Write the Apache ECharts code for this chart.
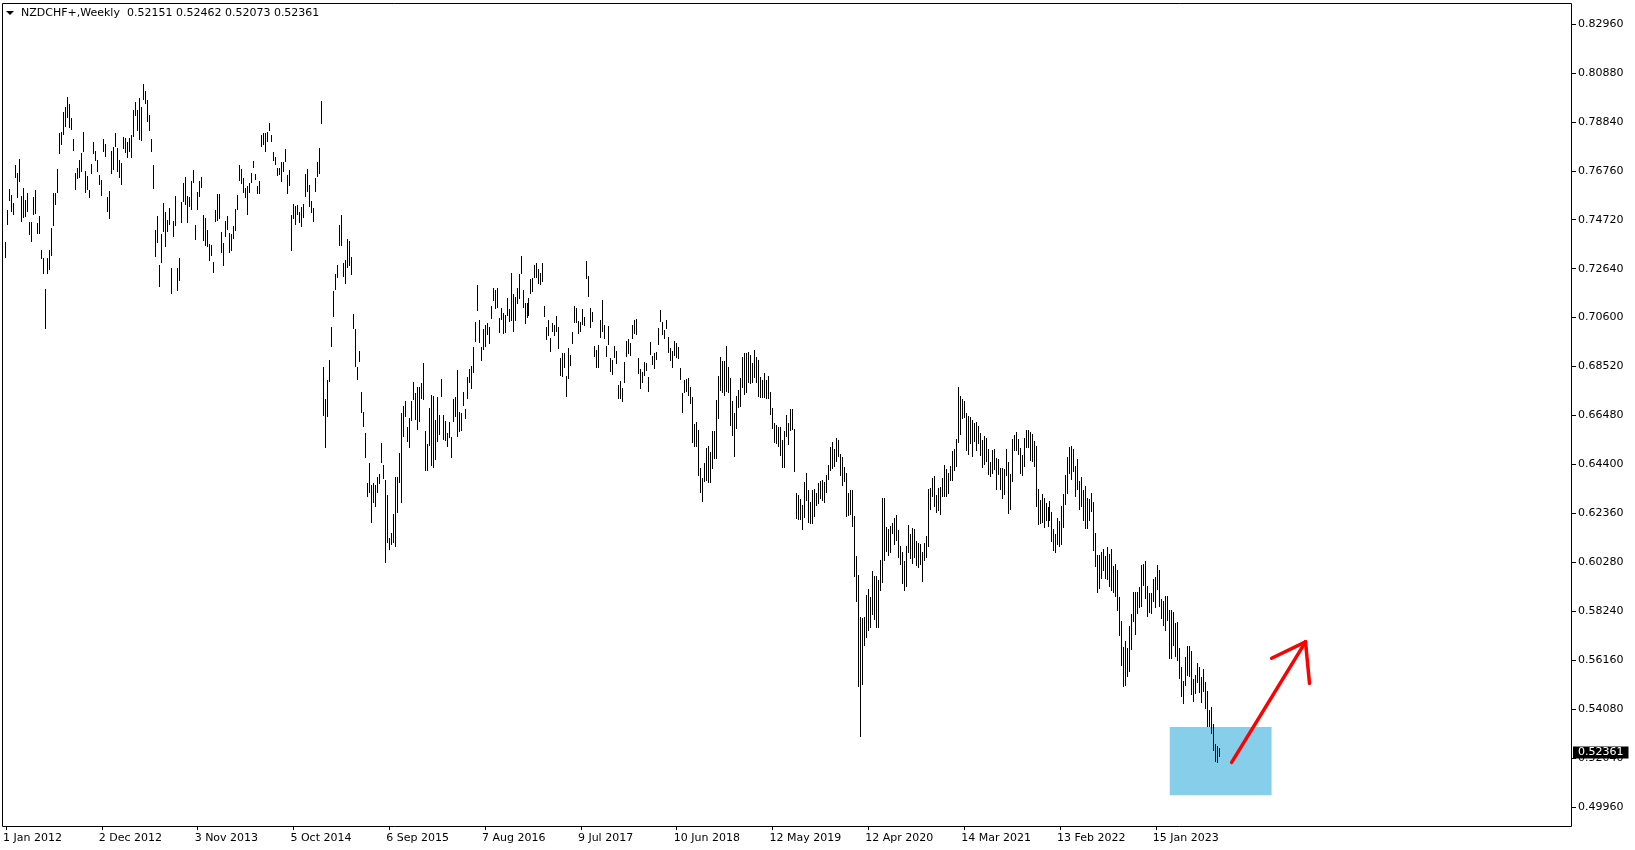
<!DOCTYPE html>
<html><head><meta charset="utf-8">
<script src="https://cdn.jsdelivr.net/npm/echarts@6/dist/echarts.min.js"></script>
<style>html,body{margin:0;padding:0;background:#fff}#c{width:1635px;height:850px}</style>
</head><body><div id="c"></div>
<script>
const SYMBOL = 'NZDCHF+';
const TIMEFRAME = 'Weekly';
const LAST_OPEN = 0.52151;
const LAST_CLOSE = 0.52361;

const X_TICK_LABELS = ['1 Jan 2012','2 Dec 2012','3 Nov 2013','5 Oct 2014','6 Sep 2015','7 Aug 2016','9 Jul 2017','10 Jun 2018','12 May 2019','12 Apr 2020','14 Mar 2021','13 Feb 2022','15 Jan 2023'];
const BARS_PER_X_LABEL = 48;
const Y_TICK_LABELS = ['0.82960','0.80880','0.78840','0.76760','0.74720','0.72640','0.70600','0.68520','0.66480','0.64400','0.62360','0.60280','0.58240','0.56160','0.54080','0.52040','0.49960'];

// weekly highs, one per bar from 1 Jan 2012
const HIGHS = [
0.7379,0.7512,0.7600,0.7575,0.7541,0.7702,0.7667,0.7727,0.7572,0.7603,
0.7554,0.7582,0.7463,0.7463,0.7568,0.7596,0.7456,0.7488,0.7343,0.7311,
0.7179,0.7311,0.7343,0.7435,0.7582,0.7582,0.7685,0.7835,0.7842,0.7926,
0.7948,0.7987,0.7957,0.7898,0.7811,0.7667,0.7690,0.7723,0.7751,0.7839,
0.7676,0.7657,0.7596,0.7704,0.7800,0.7761,0.7723,0.7660,0.7638,0.7811,
0.7789,0.7568,0.7592,0.7761,0.7779,0.7835,0.7775,0.7723,0.7709,0.7821,
0.7814,0.7800,0.7817,0.7828,0.7933,0.7966,0.7933,0.7983,0.7948,0.8042,
0.8014,0.7976,0.7912,0.7811,0.7702,0.7428,0.7488,0.7280,0.7409,0.7540,
0.7502,0.7470,0.7522,0.7269,0.7466,0.7572,0.7269,0.7311,0.7547,0.7624,
0.7652,0.7572,0.7568,0.7634,0.7681,0.7449,0.7589,0.7634,0.7652,0.7491,
0.7477,0.7428,0.7369,0.7365,0.7294,0.7512,0.7580,0.7580,0.7421,0.7372,
0.7467,0.7487,0.7417,0.7411,0.7445,0.7515,0.7575,0.7702,0.7684,0.7646,
0.7603,0.7613,0.7625,0.7667,0.7720,0.7664,0.7613,0.7636,0.7828,0.7838,
0.7835,0.7842,0.7880,0.7828,0.7758,0.7737,0.7688,0.7688,0.7716,0.7716,
0.7768,0.7660,0.7681,0.7491,0.7538,0.7529,0.7533,0.7505,0.7523,0.7538,
0.7664,0.7684,0.7618,0.7552,0.7519,0.7646,0.7716,0.7772,0.7972,0.6852,
0.6714,0.6796,0.6880,0.7020,0.7172,0.7242,0.7280,0.7449,0.7491,0.7287,
0.7301,0.7389,0.7383,0.7313,0.7074,0.7009,0.6852,0.6919,0.6746,0.6662,
0.6574,0.6363,0.6444,0.6353,0.6363,0.6353,0.6385,0.6399,0.6531,0.6437,
0.6374,0.6311,0.6128,0.6149,0.6231,0.6385,0.6388,0.6489,0.6658,0.6684,
0.6705,0.6599,0.6634,0.6705,0.6786,0.6740,0.6764,0.6764,0.6782,0.6866,
0.6581,0.6525,0.6679,0.6733,0.6730,0.6627,0.6726,0.6648,0.6800,0.6648,
0.6623,0.6571,0.6620,0.6557,0.6716,0.6726,0.6838,0.6662,0.6655,0.6747,
0.6674,0.6810,0.6842,0.6856,0.6936,0.7039,0.7194,0.7049,0.6936,0.7011,
0.7028,0.7035,0.7017,0.7109,0.7185,0.7175,0.7182,0.7059,0.7101,0.7077,
0.7070,0.7143,0.7095,0.7246,0.7157,0.7147,0.7185,0.7241,0.7319,0.7175,
0.7119,0.7119,0.7143,0.7222,0.7224,0.7281,0.7288,0.7264,0.7246,0.7288,
0.7109,0.7021,0.7049,0.6972,0.7035,0.7028,0.7067,0.7017,0.6890,0.6908,
0.6908,0.6814,0.6929,0.6901,0.6997,0.7109,0.7098,0.7045,0.7039,0.7095,
0.7063,0.7298,0.7232,0.7101,0.7081,0.6941,0.6922,0.6943,0.7049,0.7133,
0.7028,0.6939,0.7023,0.6887,0.6880,0.6939,0.6919,0.6775,0.6793,0.6761,
0.6873,0.6962,0.6967,0.6953,0.7028,0.7049,0.7053,0.6887,0.6841,0.6831,
0.6873,0.6869,0.6810,0.6957,0.6897,0.6911,0.6915,0.7014,0.7091,0.7042,
0.7007,0.7049,0.6976,0.6929,0.6919,0.6962,0.6953,0.6936,0.6845,0.6740,
0.6796,0.6799,0.6803,0.6768,0.6723,0.6610,0.6620,0.6585,0.6423,0.6381,
0.6447,0.6508,0.6518,0.6494,0.6582,0.6582,0.6711,0.6813,0.6891,0.6877,
0.6877,0.6939,0.6852,0.6803,0.6709,0.6655,0.6728,0.6754,0.6803,0.6894,
0.6908,0.6911,0.6915,0.6901,0.6866,0.6922,0.6891,0.6880,0.6810,0.6796,
0.6824,0.6796,0.6813,0.6747,0.6676,0.6616,0.6606,0.6599,0.6596,0.6543,
0.6582,0.6648,0.6616,0.6672,0.6672,0.6588,0.6321,0.6311,0.6293,0.6269,
0.6365,0.6403,0.6330,0.6283,0.6330,0.6335,0.6318,0.6363,0.6372,0.6374,
0.6367,0.6396,0.6438,0.6515,0.6536,0.6504,0.6550,0.6543,0.6484,0.6470,
0.6428,0.6405,0.6321,0.6330,0.6330,0.6223,0.6054,0.5974,0.5796,0.5791,
0.5796,0.5890,0.5914,0.5883,0.5992,0.5970,0.5970,0.5953,0.6037,0.6297,
0.6297,0.6175,0.6167,0.6181,0.6195,0.6213,0.6227,0.6164,0.6096,0.6072,
0.6034,0.6096,0.6185,0.6147,0.6171,0.6167,0.6119,0.6110,0.6105,0.6072,
0.6110,0.6138,0.6335,0.6339,0.6382,0.6389,0.6311,0.6339,0.6344,0.6382,
0.6438,0.6419,0.6403,0.6433,0.6498,0.6504,0.6546,0.6765,0.6729,0.6715,
0.6705,0.6658,0.6644,0.6639,0.6625,0.6616,0.6620,0.6602,0.6574,0.6543,
0.6560,0.6550,0.6504,0.6452,0.6501,0.6504,0.6466,0.6462,0.6424,0.6424,
0.6419,0.6504,0.6452,0.6400,0.6546,0.6564,0.6578,0.6546,0.6508,0.6480,
0.6550,0.6585,0.6585,0.6578,0.6568,0.6540,0.6518,0.6335,0.6290,0.6315,
0.6297,0.6279,0.6259,0.6287,0.6241,0.6166,0.6147,0.6213,0.6203,0.6265,
0.6315,0.6395,0.6470,0.6515,0.6518,0.6504,0.6433,0.6461,0.6371,0.6385,
0.6332,0.6349,0.6297,0.6293,0.6318,0.6283,0.6149,0.6058,0.6058,0.6072,
0.6082,0.6054,0.6090,0.6062,0.6082,0.6012,0.6020,0.5995,0.5882,0.5781,
0.5669,0.5697,0.5665,0.5759,0.5809,0.5904,0.5904,0.5904,0.5925,0.6016,
0.6020,0.6034,0.5927,0.5899,0.5899,0.5956,0.5967,0.6016,0.5995,0.5871,
0.5866,0.5885,0.5885,0.5826,0.5826,0.5819,0.5773,0.5777,0.5665,0.5585,
0.5528,0.5630,0.5675,0.5675,0.5655,0.5534,0.5552,0.5604,0.5585,0.5545,
0.5576,0.5524,0.5486,0.5405,0.5419,0.5346,0.5261,0.5253,0.52462
];
// weekly lows
const LOWS = [
0.7311,0.7449,0.7550,0.7505,0.7491,0.7645,0.7564,0.7631,0.7463,0.7480,
0.7484,0.7505,0.7407,0.7379,0.7491,0.7494,0.7409,0.7409,0.7305,0.7244,
0.7010,0.7244,0.7260,0.7319,0.7446,0.7533,0.7582,0.7748,0.7786,0.7828,
0.7863,0.7901,0.7859,0.7849,0.7761,0.7596,0.7643,0.7648,0.7674,0.7755,
0.7582,0.7596,0.7564,0.7662,0.7747,0.7719,0.7671,0.7617,0.7572,0.7755,
0.7737,0.7505,0.7474,0.7662,0.7681,0.7779,0.7674,0.7648,0.7617,0.7769,
0.7751,0.7730,0.7755,0.7730,0.7821,0.7910,0.7845,0.7807,0.7803,0.7976,
0.7957,0.7884,0.7845,0.7758,0.7600,0.7315,0.7371,0.7189,0.7287,0.7418,
0.7357,0.7421,0.7449,0.7156,0.7400,0.7446,0.7171,0.7213,0.7456,0.7544,
0.7533,0.7456,0.7526,0.7512,0.7624,0.7386,0.7512,0.7568,0.7606,0.7380,
0.7362,0.7358,0.7299,0.7318,0.7245,0.7463,0.7467,0.7473,0.7332,0.7276,
0.7400,0.7428,0.7332,0.7341,0.7389,0.7425,0.7512,0.7636,0.7622,0.7582,
0.7561,0.7491,0.7585,0.7627,0.7688,0.7639,0.7580,0.7580,0.7779,0.7786,
0.7758,0.7800,0.7847,0.7800,0.7720,0.7702,0.7656,0.7660,0.7632,0.7674,
0.7716,0.7580,0.7613,0.7341,0.7473,0.7449,0.7491,0.7459,0.7439,0.7477,
0.7566,0.7589,0.7526,0.7501,0.7463,0.7589,0.7650,0.7664,0.7873,0.6644,
0.6508,0.6641,0.6789,0.6936,0.7063,0.7175,0.7224,0.7360,0.7360,0.7231,
0.7200,0.7266,0.7276,0.7238,0.7009,0.6849,0.6796,0.6873,0.6655,0.6599,
0.6465,0.6304,0.6321,0.6191,0.6279,0.6259,0.6318,0.6357,0.6447,0.6377,
0.6026,0.6107,0.6079,0.6100,0.6107,0.6090,0.6234,0.6360,0.6276,0.6557,
0.6640,0.6533,0.6511,0.6623,0.6712,0.6627,0.6585,0.6620,0.6716,0.6712,
0.6410,0.6412,0.6519,0.6435,0.6426,0.6459,0.6533,0.6564,0.6726,0.6543,
0.6539,0.6515,0.6550,0.6466,0.6620,0.6641,0.6557,0.6578,0.6581,0.6688,
0.6632,0.6716,0.6782,0.6758,0.6824,0.6955,0.7087,0.6951,0.6876,0.6922,
0.6936,0.6986,0.6946,0.7053,0.7129,0.7095,0.7098,0.6993,0.7049,0.6988,
0.6993,0.7067,0.7042,0.7045,0.6997,0.7045,0.7115,0.7137,0.7241,0.7098,
0.7031,0.7056,0.7067,0.7157,0.7168,0.7224,0.7227,0.7199,0.7194,0.7208,
0.7063,0.6965,0.6979,0.6915,0.6997,0.6983,0.6997,0.6927,0.6814,0.6810,
0.6848,0.6726,0.6800,0.6856,0.6946,0.7035,0.7035,0.6988,0.7000,0.7028,
0.7025,0.7222,0.7147,0.7014,0.7039,0.6894,0.6848,0.6848,0.6972,0.6998,
0.6967,0.6894,0.6943,0.6831,0.6817,0.6887,0.6863,0.6714,0.6714,0.6704,
0.6785,0.6891,0.6905,0.6897,0.6967,0.6990,0.6985,0.6821,0.6756,0.6785,
0.6813,0.6835,0.6747,0.6901,0.6859,0.6841,0.6880,0.6943,0.7042,0.6985,
0.6967,0.7009,0.6911,0.6877,0.6845,0.6897,0.6887,0.6883,0.6796,0.6658,
0.6742,0.6747,0.6728,0.6695,0.6529,0.6512,0.6515,0.6391,0.6321,0.6283,
0.6367,0.6371,0.6363,0.6363,0.6419,0.6461,0.6461,0.6630,0.6751,0.6742,
0.6728,0.6747,0.6742,0.6602,0.6560,0.6473,0.6588,0.6676,0.6681,0.6761,
0.6733,0.6742,0.6785,0.6779,0.6785,0.6803,0.6782,0.6723,0.6719,0.6719,
0.6719,0.6714,0.6714,0.6648,0.6588,0.6532,0.6526,0.6515,0.6475,0.6423,
0.6423,0.6554,0.6522,0.6582,0.6585,0.6409,0.6208,0.6206,0.6206,0.6164,
0.6215,0.6287,0.6195,0.6189,0.6189,0.6217,0.6265,0.6273,0.6293,0.6287,
0.6279,0.6318,0.6374,0.6414,0.6419,0.6428,0.6452,0.6470,0.6391,0.6349,
0.6367,0.6220,0.6223,0.6227,0.6178,0.5964,0.5862,0.5503,0.5293,0.5510,
0.5675,0.5707,0.5739,0.5749,0.5805,0.5782,0.5749,0.5749,0.5908,0.5942,
0.6034,0.6072,0.6054,0.6065,0.6147,0.6101,0.6115,0.6044,0.6016,0.5936,
0.5908,0.5925,0.6065,0.6040,0.6020,0.6044,0.6012,0.6002,0.6016,0.5946,
0.6034,0.6044,0.6093,0.6248,0.6301,0.6259,0.6234,0.6245,0.6227,0.6301,
0.6304,0.6301,0.6315,0.6372,0.6372,0.6414,0.6428,0.6529,0.6564,0.6630,
0.6634,0.6498,0.6480,0.6526,0.6470,0.6536,0.6498,0.6526,0.6476,0.6424,
0.6438,0.6448,0.6396,0.6386,0.6400,0.6417,0.6330,0.6396,0.6330,0.6293,
0.6311,0.6391,0.6231,0.6248,0.6367,0.6498,0.6498,0.6480,0.6400,0.6391,
0.6428,0.6508,0.6508,0.6456,0.6452,0.6428,0.6262,0.6185,0.6189,0.6192,
0.6171,0.6203,0.6178,0.6203,0.6114,0.6076,0.6068,0.6100,0.6090,0.6100,
0.6171,0.6269,0.6315,0.6400,0.6374,0.6409,0.6304,0.6332,0.6248,0.6259,
0.6203,0.6166,0.6166,0.6203,0.6241,0.6076,0.6006,0.5899,0.5913,0.5956,
0.5992,0.5956,0.5953,0.5922,0.5908,0.5899,0.5882,0.5823,0.5717,0.5590,
0.5503,0.5506,0.5542,0.5566,0.5658,0.5777,0.5721,0.5809,0.5833,0.5840,
0.5927,0.5871,0.5798,0.5815,0.5809,0.5861,0.5833,0.5911,0.5840,0.5787,
0.5759,0.5739,0.5781,0.5618,0.5618,0.5675,0.5627,0.5613,0.5534,0.5461,
0.5430,0.5506,0.5548,0.5542,0.5468,0.5440,0.5472,0.5520,0.5478,0.5436,
0.5482,0.5408,0.5332,0.5332,0.5304,0.5233,0.5187,0.5183,0.52073
];

// annotations (bar index, price)
const BOX_CORNERS = [[583, 0.5333], [634, 0.5046]];
const ARROW_SHAFT = [[614, 0.5184], [651, 0.5692]];
const ARROW_HEAD = [[634, 0.5623], [651, 0.5692], [653, 0.5517]];

const TOTAL_SLOTS = 785;           // bars + empty right-shift area
const Y_MIN = 0.49159, Y_MAX = 0.83845;
const FONT = '"DejaVu Sans", Tahoma, sans-serif';

const cats = Array.from({length: TOTAL_SLOTS}, (_, i) => String(i));
const barData = HIGHS.map((h, i) => [i, LOWS[i], h]);
const yTop = parseFloat(Y_TICK_LABELS[0]);
const yBot = parseFloat(Y_TICK_LABELS[Y_TICK_LABELS.length - 1]);
const yStep = (yTop - yBot) / (Y_TICK_LABELS.length - 1);
const yTickValues = Y_TICK_LABELS.map((_, k) => yTop - k * yStep);
const isLabelIdx = (idx) => idx % BARS_PER_X_LABEL === 0 && idx / BARS_PER_X_LABEL < X_TICK_LABELS.length;

const last = HIGHS.length - 1;
const header = SYMBOL + ',' + TIMEFRAME + '  ' + LAST_OPEN.toFixed(5) + ' ' + HIGHS[last].toFixed(5) + ' ' + LOWS[last].toFixed(5) + ' ' + LAST_CLOSE.toFixed(5);

const chart = echarts.init(document.getElementById('c'), null, {renderer: 'canvas'});
chart.setOption({
  animation: false,
  backgroundColor: '#ffffff',
  grid: {left: 2, top: 3, width: 1570, height: 823, show: false},
  xAxis: {
    type: 'category', data: cats, boundaryGap: true,
    axisLine: {show: false},
    axisTick: {show: true, alignWithLabel: true, length: 4, interval: isLabelIdx, lineStyle: {color: '#000', width: 1}},
    axisLabel: {
      show: true, interval: isLabelIdx, align: 'left', margin: 7, color: '#000',
      fontFamily: FONT, fontSize: 11, padding: [0, 0, 0, -3],
      formatter: (v, i) => X_TICK_LABELS[Math.round(i / BARS_PER_X_LABEL)] || ''
    },
    splitLine: {show: false}
  },
  yAxis: {
    type: 'value', position: 'right', min: Y_MIN, max: Y_MAX, scale: true,
    axisLine: {show: false},
    axisTick: {show: true, length: 4, customValues: yTickValues, lineStyle: {color: '#000'}},
    axisLabel: {
      show: true, customValues: yTickValues, margin: 6, color: '#000', fontFamily: FONT, fontSize: 11,
      formatter: (v) => Y_TICK_LABELS[Math.round((yTop - v) / yStep)] || ''
    },
    splitLine: {show: false}
  },
  series: [
    {
      type: 'line', z: 1, data: [[last, LAST_CLOSE]], symbol: 'none', lineStyle: {opacity: 0}, silent: true,
      markArea: {
        silent: true,
        itemStyle: {color: '#87CEEB', opacity: 1, borderWidth: 0},
        data: [[{coord: BOX_CORNERS[0]}, {coord: BOX_CORNERS[1]}]]
      }
    },
    {
      type: 'custom', z: 3, data: barData, clip: true,
      renderItem: (params, api) => {
        const i = api.value(0);
        const top = api.coord([i, api.value(2)]);
        const bot = api.coord([i, api.value(1)]);
        const px = Math.floor(top[0]);
        const y1 = Math.round(top[1]);
        const y2 = Math.max(Math.round(bot[1]), y1 + 1);
        return {type: 'rect', shape: {x: px, y: y1, width: 1, height: y2 - y1}, style: {fill: '#000'}};
      }
    },
    {
      type: 'line', z: 4, data: [[last, LAST_CLOSE]], symbol: 'none', lineStyle: {opacity: 0}, silent: true,
      markLine: {
        silent: true, symbol: ['none', 'none'], animation: false,
        lineStyle: {color: '#ff0000', width: 3.5, type: 'solid', cap: 'round', opacity: 1},
        label: {show: false},
        data: [
          [{coord: ARROW_SHAFT[0]}, {coord: ARROW_SHAFT[1]}],
          [{coord: ARROW_HEAD[0]}, {coord: ARROW_HEAD[1]}],
          [{coord: ARROW_HEAD[1]}, {coord: ARROW_HEAD[2]}]
        ]
      }
    },
    {
      type: 'line', z: 6, data: [[last, LAST_CLOSE]], symbol: 'none', lineStyle: {opacity: 0}, silent: true,
      markLine: {
        silent: true, symbol: ['none', 'none'], animation: false,
        lineStyle: {color: 'rgba(0,0,0,0)', width: 0, opacity: 1},
        label: {
          show: true, position: 'end', distance: 1, offset: [0, -6], formatter: LAST_CLOSE.toFixed(5), opacity: 1,
          backgroundColor: '#000', color: '#fff', fontFamily: FONT, fontSize: 11, padding: [1, 5, 0, 5]
        },
        emphasis: {disabled: true},
        data: [{yAxis: LAST_CLOSE}]
      }
    }
  ],
  graphic: [
    {type: 'rect', silent: true, z: 10, shape: {x: 2.5, y: 3.5, width: 1569, height: 823}, style: {fill: null, stroke: '#000', lineWidth: 1}},
    {type: 'polygon', silent: true, z: 10, shape: {points: [[6, 11], [14, 11], [10, 15]]}, style: {fill: '#000'}},
    {type: 'text', silent: true, z: 10, x: 21, y: 13, style: {text: header, font: '11px ' + FONT, fill: '#000', verticalAlign: 'middle'}}
  ]
});
</script>
</body></html>
